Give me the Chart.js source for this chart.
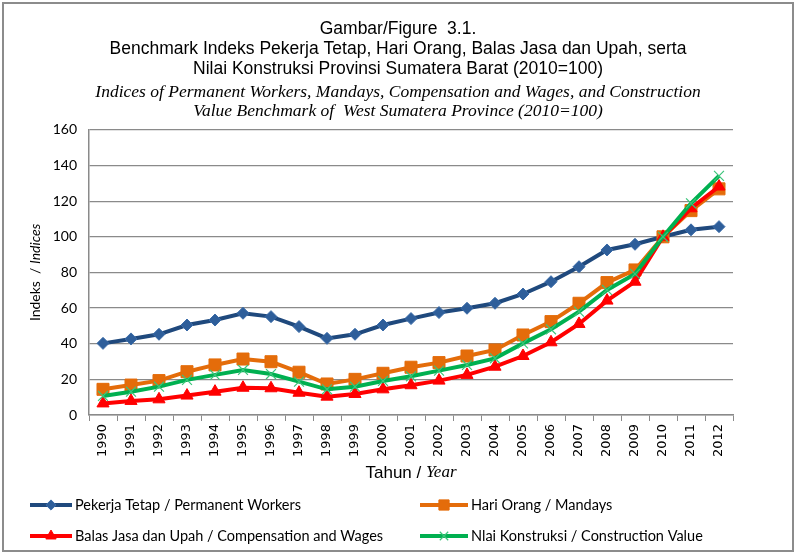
<!DOCTYPE html>
<html>
<head>
<meta charset="utf-8">
<script src="https://cdn.jsdelivr.net/npm/chart.js@4/dist/chart.umd.min.js"></script>
<style>
  html, body { margin: 0; padding: 0; background: #fff; }
  #wrap { width: 796px; height: 553px; position: relative; }
  canvas { display: block; }
</style>
</head>
<body>
<div id="wrap"><canvas id="c" width="796" height="553"></canvas></div>
<script>
// ---- data ----
const years = ['1990','1991','1992','1993','1994','1995','1996','1997','1998','1999','2000','2001','2002','2003','2004','2005','2006','2007','2008','2009','2010','2011','2012'];
const permanentWorkers = [40.2, 42.7, 45.3, 50.5, 53.3, 57.1, 55.2, 49.6, 43.0, 45.3, 50.5, 54.1, 57.5, 59.9, 62.7, 67.9, 74.8, 83.2, 92.6, 95.8, 100, 103.9, 105.7];
const mandays = [14.4, 16.8, 19.3, 24.3, 28.1, 31.4, 29.9, 24.0, 17.4, 20.0, 23.4, 26.8, 29.4, 33.1, 36.5, 44.9, 52.4, 62.7, 74.3, 81.4, 100, 114.7, 126.9];
const compensation = [6.5, 7.9, 8.8, 10.9, 13.1, 15.3, 15.0, 12.5, 10.3, 11.8, 14.4, 16.7, 19.3, 22.5, 27.1, 33.1, 40.8, 51.1, 64.2, 74.8, 100, 116.0, 128.2];
const construction = [10.7, 13.1, 15.9, 19.7, 22.5, 25.3, 23.0, 18.7, 14.4, 15.9, 19.1, 21.7, 24.9, 28.1, 31.8, 40.2, 48.1, 58.0, 70.2, 79.2, 100, 118.8, 134.2];
const seriesLabels = ['Pekerja Tetap / Permanent Workers', 'Hari Orang / Mandays', 'Balas Jasa dan Upah / Compensation and Wages', 'Nlai Konstruksi / Construction Value'];
const titleLines = ['Gambar/Figure  3.1.', 'Benchmark Indeks Pekerja Tetap, Hari Orang, Balas Jasa dan Upah, serta', 'Nilai Konstruksi Provinsi Sumatera Barat (2010=100)'];
const subtitleLines = ['Indices of Permanent Workers, Mandays, Compensation and Wages, and Construction', 'Value Benchmark of  West Sumatera Province (2010=100)'];
const xTitle = ['Tahun / ', 'Year'];
const yTitle = ['Indeks  / ', 'Indices'];

const GRID = '#8a8a8a';
const SANS = 'Lato, "Liberation Sans", sans-serif';
const ARIAL = '"Liberation Sans", Arial, sans-serif';
const SERIF = '"Liberation Serif", "Times New Roman", serif';

function drawMarker(ctx, style, x, y, r, fill, stroke, lw) {
  ctx.save();
  ctx.fillStyle = fill; ctx.strokeStyle = stroke; ctx.lineWidth = lw;
  ctx.beginPath();
  if (style === 'rectRot') {
    ctx.moveTo(x, y - r); ctx.lineTo(x + r, y); ctx.lineTo(x, y + r); ctx.lineTo(x - r, y); ctx.closePath();
    ctx.fill(); ctx.stroke();
  } else if (style === 'rect') {
    const s = r * Math.SQRT1_2;
    ctx.rect(x - s, y - s, 2 * s, 2 * s); ctx.fill(); ctx.stroke();
  } else if (style === 'triangle') {
    for (let k = 0; k < 3; k++) {
      const a = k * 2 * Math.PI / 3;
      const px = x + Math.sin(a) * r, py = y - Math.cos(a) * r;
      if (k === 0) ctx.moveTo(px, py); else ctx.lineTo(px, py);
    }
    ctx.closePath(); ctx.fill(); ctx.stroke();
  } else if (style === 'crossRot') {
    const d = r * Math.SQRT1_2;
    ctx.moveTo(x - d, y - d); ctx.lineTo(x + d, y + d);
    ctx.moveTo(x + d, y - d); ctx.lineTo(x - d, y + d);
    ctx.stroke();
  }
  ctx.restore();
}

function mixedWidth(ctx, parts) {
  let w = 0;
  parts.forEach(p => { ctx.font = p.f; w += ctx.measureText(p.t).width; });
  return w;
}
function drawMixed(ctx, parts, cx, cy, rot) {
  ctx.save();
  ctx.translate(cx, cy);
  ctx.rotate(rot);
  ctx.textBaseline = 'middle';
  ctx.textAlign = 'left';
  ctx.fillStyle = '#000';
  let x = -mixedWidth(ctx, parts) / 2;
  parts.forEach(p => { ctx.font = p.f; ctx.fillText(p.t, x, 0); x += ctx.measureText(p.t).width; });
  ctx.restore();
}

const decorations = {
  id: 'decorations',
  beforeDraw(chart) {
    const ctx = chart.ctx;
    ctx.save();
    ctx.fillStyle = '#fff';
    ctx.fillRect(0, 0, chart.width, chart.height);
    ctx.restore();
  },
  afterDraw(chart) {
    const ctx = chart.ctx;
    const area = chart.chartArea;
    ctx.save();
    // outer frame
    ctx.strokeStyle = '#8c8c8c';
    ctx.lineWidth = 2;
    ctx.strokeRect(3, 3, 790, 548);
    // axis titles
    drawMixed(ctx, [{t: xTitle[0], f: '17px ' + ARIAL}, {t: xTitle[1], f: 'italic 17px ' + SERIF}], (area.left + area.right) / 2, area.bottom + 58, 0);
    drawMixed(ctx, [{t: yTitle[0], f: '14px ' + SANS}, {t: yTitle[1], f: 'italic 14px ' + SANS}], 35, (area.top + area.bottom) / 2, -Math.PI / 2);
    // legend (two columns, two rows)
    const cols = [{x0: 30, x1: 72}, {x0: 420, x1: 468}];
    const rows = [area.bottom + 90, area.bottom + 121];
    chart.data.datasets.forEach((ds, i) => {
      const c = cols[i % 2], y = rows[Math.floor(i / 2)];
      ctx.save();
      ctx.strokeStyle = ds.borderColor; ctx.lineWidth = ds.borderWidth;
      ctx.beginPath(); ctx.moveTo(c.x0, y); ctx.lineTo(c.x1, y); ctx.stroke();
      ctx.restore();
      drawMarker(ctx, ds.pointStyle, (c.x0 + c.x1) / 2, y, ds.pointRadius * 0.85, ds.pointBackgroundColor, ds.pointBorderColor, ds.pointBorderWidth);
      ctx.font = '14.5px ' + SANS;
      ctx.fillStyle = '#000';
      ctx.textBaseline = 'middle';
      ctx.textAlign = 'left';
      ctx.fillText(ds.label, c.x1 + 3, y);
    });
    ctx.restore();
  }
};

const ctx = document.getElementById('c').getContext('2d');
new Chart(ctx, {
  type: 'line',
  data: {
    labels: years,
    datasets: [
      { label: seriesLabels[0], data: permanentWorkers, borderColor: '#1F497D', borderWidth: 4,
        pointStyle: 'rectRot', pointRadius: 6, pointBackgroundColor: '#2E5E9A', pointBorderColor: '#3A6BA8', pointBorderWidth: 1, order: 4 },
      { label: seriesLabels[1], data: mandays, borderColor: '#E46C0A', borderWidth: 4,
        pointStyle: 'rect', pointRadius: 8.5, pointBackgroundColor: '#E46C0A', pointBorderColor: '#E46C0A', pointBorderWidth: 1, order: 3 },
      { label: seriesLabels[2], data: compensation, borderColor: '#FF0000', borderWidth: 4,
        pointStyle: 'triangle', pointRadius: 7, pointBackgroundColor: '#FF0000', pointBorderColor: '#FF0000', pointBorderWidth: 1, order: 2 },
      { label: seriesLabels[3], data: construction, borderColor: '#00B050', borderWidth: 4,
        pointStyle: 'crossRot', pointRadius: 7, pointBackgroundColor: '#3CC47A', pointBorderColor: '#3CC47A', pointBorderWidth: 1.2, order: 1 }
    ]
  },
  options: {
    responsive: false,
    animation: false,
    devicePixelRatio: 1,
    layout: { padding: { left: 0, right: 0, top: 0, bottom: 90 } },
    elements: { line: { tension: 0 } },
    plugins: {
      legend: { display: false },
      tooltip: { enabled: false },
      title: {
        display: true, text: titleLines, color: '#000',
        font: { family: ARIAL, size: 17.5, weight: 'normal', lineHeight: 1.15 },
        padding: { top: 19, bottom: 3.5 }
      },
      subtitle: {
        display: true, text: subtitleLines, color: '#000',
        font: { family: SERIF, size: 17.5, style: 'italic', weight: 'normal', lineHeight: 1.1 },
        padding: { top: 0, bottom: 8.5 }
      }
    },
    scales: {
      x: {
        offset: true,
        grid: { display: true, drawOnChartArea: false, drawTicks: true, tickLength: 6, offset: true, color: GRID, lineWidth: 1 },
        border: { display: true, color: GRID, width: 1.5 },
        ticks: { autoSkip: false, minRotation: 90, maxRotation: 90, color: '#000', padding: 3,
                 font: { family: '"DejaVu Sans", sans-serif', size: 13 } },
        afterFit(scale) { scale.height = 48; }
      },
      y: {
        min: 0, max: 160,
        ticks: { stepSize: 20, color: '#000', padding: 12, font: { family: SANS, size: 14 } },
        grid: { color: GRID, lineWidth: 1.3, drawTicks: false },
        border: { display: true, color: GRID, width: 1.5 },
        afterFit(scale) { scale.width = 89; }
      },
      yRightSpace: {
        position: 'right', min: 0, max: 160,
        ticks: { display: false },
        grid: { display: false, drawOnChartArea: false, drawTicks: false },
        border: { display: false },
        afterFit(scale) { scale.width = 63; }
      }
    }
  },
  plugins: [decorations]
});
</script>
</body>
</html>
